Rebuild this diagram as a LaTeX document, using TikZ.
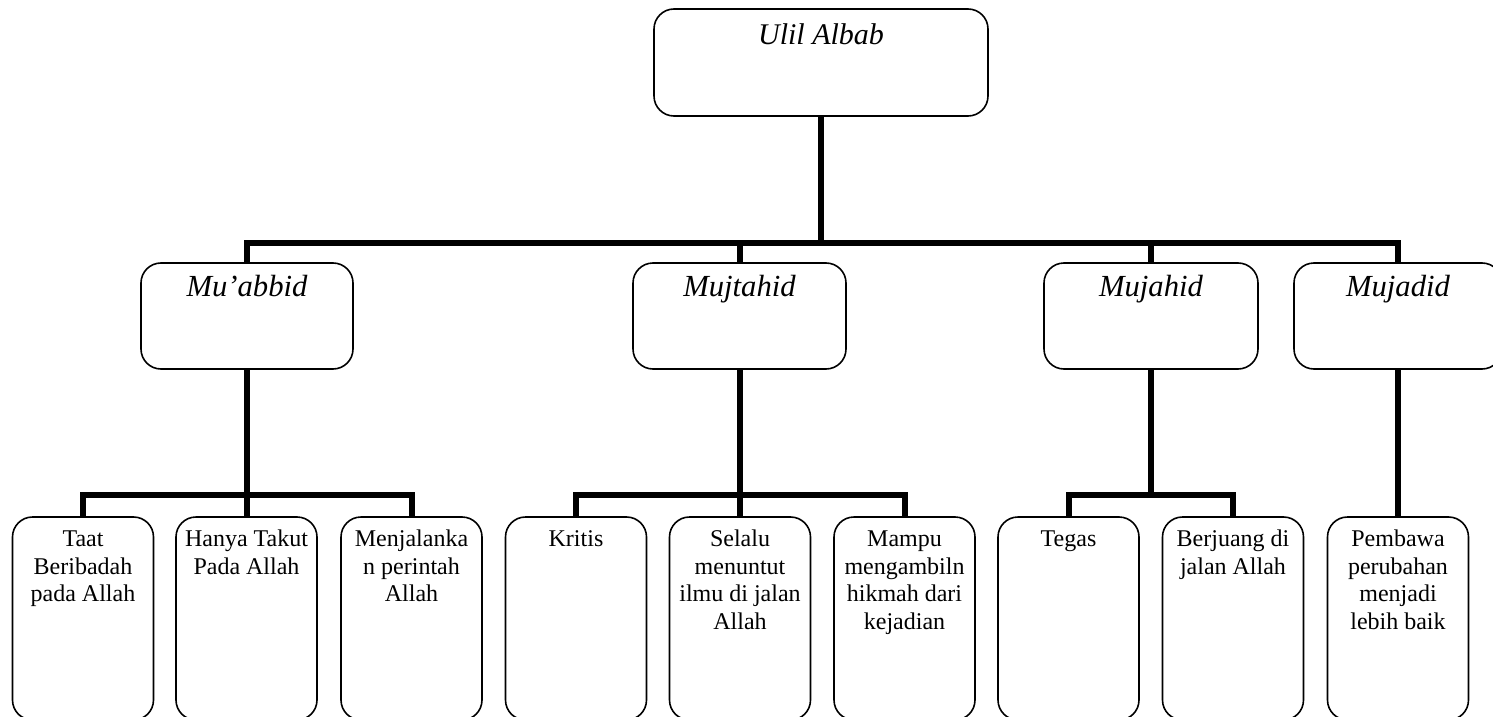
\documentclass[tikz,border=0pt]{standalone}
\usepackage{fontspec}
\setmainfont{Liberation Serif}
\begin{document}
\begin{tikzpicture}[x=0.75pt,y=-0.75pt,
    box/.style={draw,rounded corners=15pt,line width=1.2pt,inner sep=0pt},
    headbox/.style={box,minimum height=79.5pt},
    leafbox/.style={box,minimum width=105.75pt,minimum height=152.25pt},
    headtext/.style={anchor=north,inner sep=0pt,yshift=-6.6pt,font=\fontsize{23}{27}\selectfont\itshape},
    leaftext/.style={anchor=north,inner sep=0pt,align=center,yshift=-8.2pt,font=\fontsize{18}{20.6}\selectfont},
    bus/.style={line width=4.5pt}]
  \useasboundingbox (0,0) rectangle (1493,717);

  % Top box
  \node[headbox,minimum width=250.5pt,minimum height=80.25pt,
    label={[headtext,yshift=-1.5pt,font=\fontsize{22.5}{27}\selectfont\itshape]north:\strut Ulil Albab}] (root) at (821,62.5) {};

  % Second row
  \node[headbox,minimum width=159pt,label={[headtext]north:\strut Mu'abbid}] (muabbid) at (247,316) {};
  \node[headbox,minimum width=159.75pt,label={[headtext]north:\strut Mujtahid}] (mujtahid) at (739.5,316) {};
  \node[headbox,minimum width=160.5pt,label={[headtext]north:\strut Mujahid}] (mujahid) at (1151,316) {};
  \node[headbox,minimum width=156pt,label={[headtext]north:\strut Mujadid}] (mujadid) at (1398,316) {};

  % Third row
  \node[leafbox,label={[leaftext]north:\strut Taat\\Beribadah\\pada Allah}] (taat) at (83,618.5) {};
  \node[leafbox,label={[leaftext]north:\strut Hanya Takut\\Pada Allah}] (hanya) at (246.5,618.5) {};
  \node[leafbox,label={[leaftext]north:\strut Menjalanka\\n perintah\\Allah}] (menjalankan) at (411.5,618.5) {};
  \node[leafbox,label={[leaftext]north:\strut Kritis}] (kritis) at (576,618.5) {};
  \node[leafbox,label={[leaftext]north:\strut Selalu\\menuntut\\ilmu di jalan\\Allah}] (selalu) at (740,618.5) {};
  \node[leafbox,label={[leaftext]north:\strut Mampu\\mengambiln\\hikmah dari\\kejadian}] (mampu) at (904.5,618.5) {};
  \node[leafbox,label={[leaftext]north:\strut Tegas}] (tegas) at (1068.5,618.5) {};
  \node[leafbox,label={[leaftext]north:\strut Berjuang di\\jalan Allah}] (berjuang) at (1233,618.5) {};
  \node[leafbox,label={[leaftext]north:\strut Pembawa\\perubahan\\menjadi\\lebih baik}] (pembawa) at (1398,618.5) {};

  % Connectors
  \coordinate (busA) at (0,243);
  \coordinate (busB) at (0,495);
  \foreach \c in {muabbid,mujtahid,mujahid,mujadid}
    \draw[bus] (root.south) -- (root.south |- busA) -| (\c.north);
  \foreach \c in {taat,hanya,menjalankan}
    \draw[bus] (muabbid.south) -- (muabbid.south |- busB) -| (\c.north);
  \foreach \c in {kritis,selalu,mampu}
    \draw[bus] (mujtahid.south) -- (mujtahid.south |- busB) -| (\c.north);
  \foreach \c in {tegas,berjuang}
    \draw[bus] (mujahid.south) -- (mujahid.south |- busB) -| (\c.north);
  \draw[bus] (mujadid.south) -- (pembawa.north);
\end{tikzpicture}
\end{document}
